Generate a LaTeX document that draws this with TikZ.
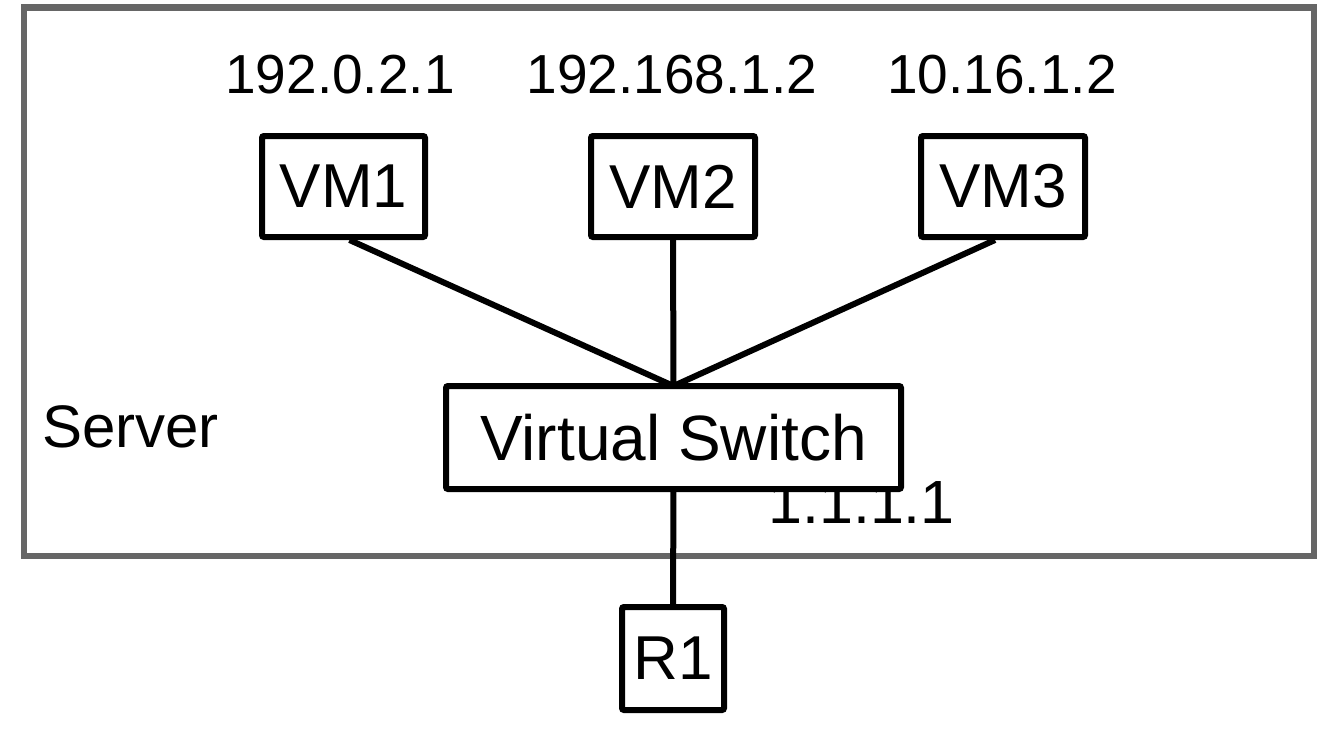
\documentclass[tikz,border=0pt]{standalone}
\usepackage{fontspec}
\setmainfont{Liberation Sans}
\usetikzlibrary{calc}
\definecolor{servergray}{HTML}{666666}
\tikzset{
  box/.style={draw=black, line width=6pt, fill=white, rounded corners=2pt, inner sep=0pt, font=\fontsize{62}{62}\selectfont},
  link/.style={draw=black, line width=6pt},
  iplabel/.style={anchor=base, inner sep=0pt, font=\fontsize{55}{55}\selectfont},
}
\begin{document}
\begin{tikzpicture}[x=1pt,y=-1pt]
\useasboundingbox (0,0) rectangle (1320,737);
\fill[white] (0,0) rectangle (1320,737);
% server frame
\draw[servergray, line width=6.5pt] (24,7.5) rectangle (1314,556);
\node[anchor=base west, inner sep=0pt, font=\fontsize{60}{60}\selectfont] (srv) at (42,447) {Server};
% IP labels
\node[iplabel] (ip1) at (340,93) {192.0.2.1};
\node[iplabel] (ip2) at (672,93) {192.168.1.2};
\node[iplabel] (ip3) at (1002,93) {10.16.1.2};
\node[iplabel, anchor=base east, font=\fontsize{61}{61}\selectfont] (ip4) at (955,523) {1.1.1.1};
% boxes
\node[box, minimum width=163pt, minimum height=101pt] (vm1) at (343.5,186.5) {VM1};
\node[box, minimum width=164pt, minimum height=101pt] (vm2) at (673,186.5) {VM2};
\node[box, minimum width=164pt, minimum height=101pt] (vm3) at (1003,186.5) {VM3};
\node[box, minimum width=102pt, minimum height=103pt] (r1) at (673,658.5) {R1};
% links
\draw[link] ($(vm1.south)+(6,0)$) -- (673.5,386);
\draw[link] (vm2.south) -- (673.5,386);
\draw[link] ($(vm3.south)+(-8,0)$) -- (673.5,386);
\draw[link] (673.5,489) -- (r1.north);
\node[box, minimum width=455pt, minimum height=103pt, font=\fontsize{64}{64}\selectfont] (sw) at (673.5,437.5) {Virtual Switch};
\end{tikzpicture}
\end{document}
